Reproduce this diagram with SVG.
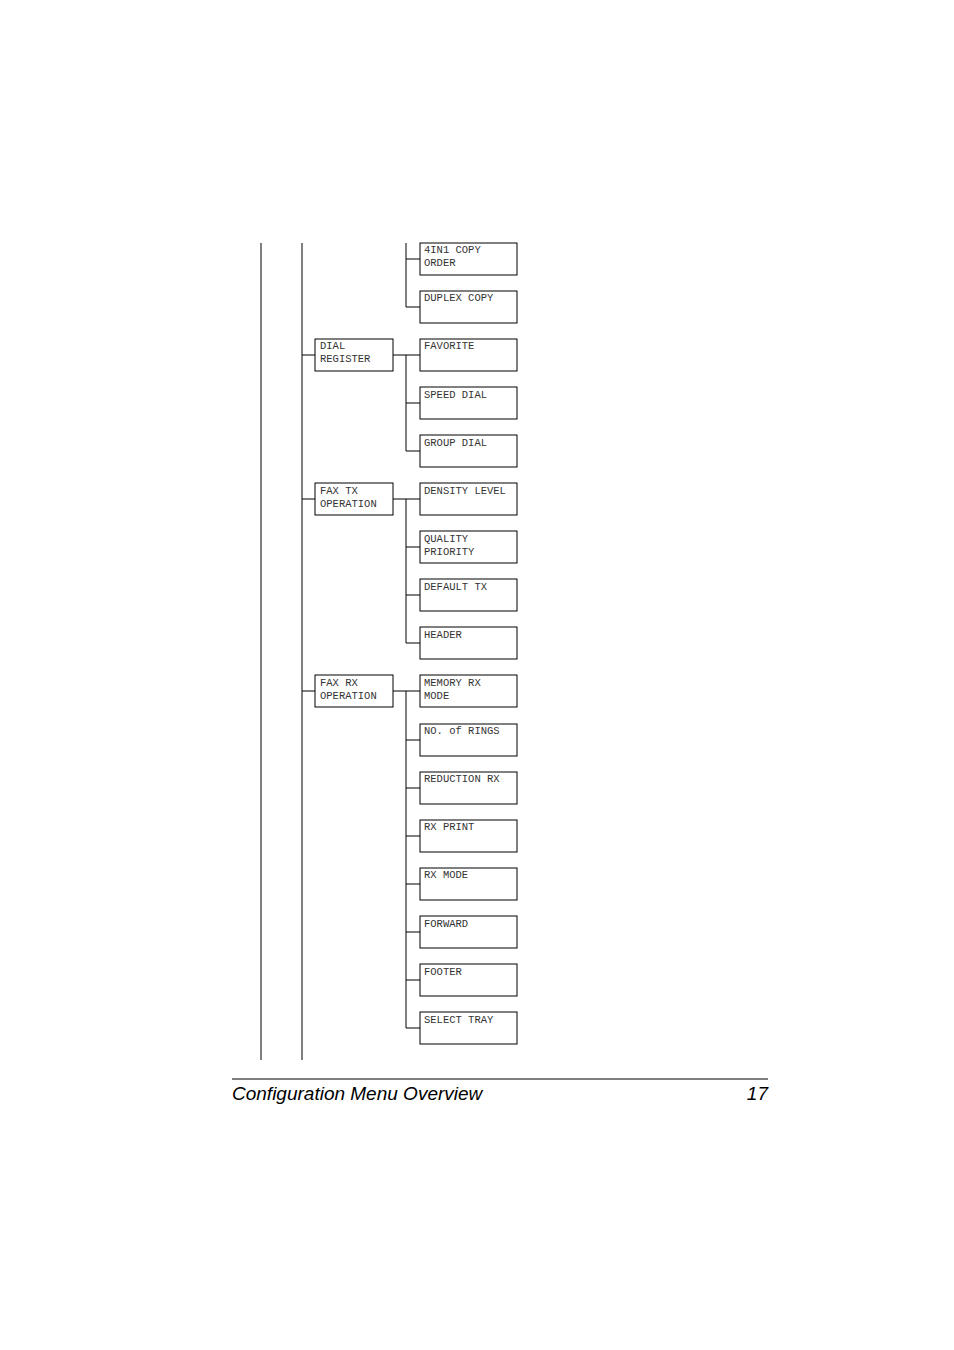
<svg xmlns="http://www.w3.org/2000/svg" width="954" height="1350" viewBox="0 0 954 1350">
<style>
rect{fill:#fff;stroke:#000;stroke-width:1}
line,path{stroke:#000;stroke-width:1;fill:none}
.t{font-family:"Liberation Mono",monospace;font-size:10.5px;fill:#333}
.f{font-family:"Liberation Sans",Arial,sans-serif;font-style:italic;font-size:19px}
</style>
<rect width="954" height="1350" style="stroke:none"/>
<g id="connectors">
<line x1="261" y1="243" x2="261" y2="1060"/>
<line x1="302" y1="243" x2="302" y2="1060"/>
<path d="M406 243V307M406 259H420M406 307H420"/>
<path d="M302 355H315M393 355H420M406 355V451M406 403H420M406 451H420"/>
<path d="M302 499H315M393 499H420M406 499V643M406 547H420M406 595H420M406 643H420"/>
<path d="M302 691H315M393 691H420M406 691V1028M406 740H420M406 788H420M406 836H420M406 884H420M406 932H420M406 980H420M406 1028H420"/>
<line x1="232" y1="1079" x2="768" y2="1079"/>
</g>
<g id="n1"><rect x="420" y="243" width="97" height="32"/><text class="t" x="424" y="253">4IN1 COPY</text><text class="t" x="424" y="266">ORDER</text></g>
<g id="n2"><rect x="420" y="291" width="97" height="32"/><text class="t" x="424" y="301">DUPLEX COPY</text></g>
<g id="dial"><rect x="315" y="339" width="78" height="32"/><text class="t" x="320" y="349">DIAL</text><text class="t" x="320" y="362">REGISTER</text></g>
<g id="n3"><rect x="420" y="339" width="97" height="32"/><text class="t" x="424" y="349">FAVORITE</text></g>
<g id="n4"><rect x="420" y="387" width="97" height="32"/><text class="t" x="424" y="398">SPEED DIAL</text></g>
<g id="n5"><rect x="420" y="435" width="97" height="32"/><text class="t" x="424" y="446">GROUP DIAL</text></g>
<g id="faxtx"><rect x="315" y="483" width="78" height="32"/><text class="t" x="320" y="494">FAX TX</text><text class="t" x="320" y="507">OPERATION</text></g>
<g id="n6"><rect x="420" y="483" width="97" height="32"/><text class="t" x="424" y="494">DENSITY LEVEL</text></g>
<g id="n7"><rect x="420" y="531" width="97" height="32"/><text class="t" x="424" y="542">QUALITY</text><text class="t" x="424" y="555">PRIORITY</text></g>
<g id="n8"><rect x="420" y="579" width="97" height="32"/><text class="t" x="424" y="590">DEFAULT TX</text></g>
<g id="n9"><rect x="420" y="627" width="97" height="32"/><text class="t" x="424" y="638">HEADER</text></g>
<g id="faxrx"><rect x="315" y="675" width="78" height="32"/><text class="t" x="320" y="686">FAX RX</text><text class="t" x="320" y="699">OPERATION</text></g>
<g id="n10"><rect x="420" y="675" width="97" height="32"/><text class="t" x="424" y="686">MEMORY RX</text><text class="t" x="424" y="699">MODE</text></g>
<g id="n11"><rect x="420" y="724" width="97" height="32"/><text class="t" x="424" y="734">NO. of RINGS</text></g>
<g id="n12"><rect x="420" y="772" width="97" height="32"/><text class="t" x="424" y="782">REDUCTION RX</text></g>
<g id="n13"><rect x="420" y="820" width="97" height="32"/><text class="t" x="424" y="830">RX PRINT</text></g>
<g id="n14"><rect x="420" y="868" width="97" height="32"/><text class="t" x="424" y="878">RX MODE</text></g>
<g id="n15"><rect x="420" y="916" width="97" height="32"/><text class="t" x="424" y="927">FORWARD</text></g>
<g id="n16"><rect x="420" y="964" width="97" height="32"/><text class="t" x="424" y="975">FOOTER</text></g>
<g id="n17"><rect x="420" y="1012" width="97" height="32"/><text class="t" x="424" y="1023">SELECT TRAY</text></g>
<text class="f" x="232" y="1100">Configuration Menu Overview</text>
<text class="f" x="768" y="1100" text-anchor="end">17</text>
</svg>
